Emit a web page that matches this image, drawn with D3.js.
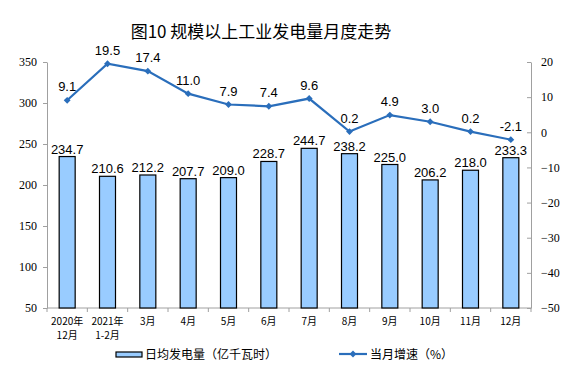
<!DOCTYPE html>
<html><head><meta charset="utf-8">
<script src="https://cdn.jsdelivr.net/npm/d3@7"></script>
<style>body{margin:0;background:#fff}</style>
</head><body><svg id="c" width="578" height="381"></svg>
<script>
const categories = ["2020年\n12月","2021年\n1-2月","3月","4月","5月","6月","7月","8月","9月","10月","11月","12月"];
const dailyOutput = [234.7,210.6,212.2,207.7,209.0,228.7,244.7,238.2,225.0,206.2,218.0,233.3];
const growth = [9.1,19.5,17.4,11.0,7.9,7.4,9.6,0.2,4.9,3.0,0.2,-2.1];
const leftTicks = [50,100,150,200,250,300,350];
const rightTicks = [-50,-40,-30,-20,-10,0,10,20];

const svg = d3.select("#c");
const L = 47, R = 531, T = 62, B = 308;
const cjk = "'Noto Sans CJK SC', sans-serif";
const serif = "'Liberation Serif', 'Times New Roman', serif";
const x = d3.scaleBand().domain(d3.range(categories.length)).range([L, R]);
const yL = d3.scaleLinear().domain([50,350]).range([B, T]);
const yR = d3.scaleLinear().domain([-50,20]).range([B, T]);

svg.append("text").attr("x",261).attr("y",38).attr("text-anchor","middle")
  .attr("font-family",cjk).attr("font-size",17).attr("font-weight",400).attr("fill","#000").text("图10 规模以上工业发电量月度走势");

// left axis
const gl = svg.append("g").attr("transform",`translate(${L},0)`).call(d3.axisLeft(yL).tickValues(leftTicks).tickSize(4).tickSizeOuter(0).tickPadding(6));
gl.selectAll("path,line").attr("stroke","#a0a0a0");
gl.selectAll("text").attr("font-family",serif).attr("font-size",12).attr("fill","#000");
// right axis
const gr = svg.append("g").attr("transform",`translate(${R},0)`).call(d3.axisRight(yR).tickValues(rightTicks).tickSize(-4).tickSizeOuter(0).tickPadding(10));
gr.selectAll("path,line").attr("stroke","#a0a0a0");
gr.selectAll("text").attr("font-family",serif).attr("font-size",12).attr("fill","#000");
// bottom axis
svg.append("line").attr("x1",L).attr("x2",R).attr("y1",B).attr("y2",B).attr("stroke","#a0a0a0");
svg.selectAll(".xt").data(d3.range(categories.length+1)).enter().append("line")
  .attr("x1",i=>L+i*x.step()).attr("x2",i=>L+i*x.step()).attr("y1",B).attr("y2",B+4).attr("stroke","#a0a0a0");

const bw = 16;
svg.selectAll(".bar").data(dailyOutput).enter().append("rect")
  .attr("x",(d,i)=>x(i)+x.bandwidth()/2-bw/2).attr("width",bw)
  .attr("y",d=>yL(d)).attr("height",d=>B-yL(d))
  .attr("fill","#99ccff").attr("stroke","#000").attr("stroke-width",1.2);
svg.selectAll(".bl").data(dailyOutput).enter().append("text")
  .attr("x",(d,i)=>x(i)+x.bandwidth()/2).attr("y",d=>yL(d)-3).attr("text-anchor","middle")
  .attr("font-family","'Liberation Sans', Arial, sans-serif").attr("font-size",13).attr("fill","#000").text(d=>d.toFixed(1));

const line = d3.line().x((d,i)=>x(i)+x.bandwidth()/2).y(d=>yR(d));
svg.append("path").datum(growth).attr("d",line).attr("fill","none").attr("stroke","#2a6ebb").attr("stroke-width",2.2);
svg.selectAll(".pt").data(growth).enter().append("path")
  .attr("transform",(d,i)=>`translate(${x(i)+x.bandwidth()/2},${yR(d)})`)
  .attr("d",d3.symbol(d3.symbolDiamond2,30)).attr("fill","#2a6ebb");
svg.selectAll(".pl").data(growth).enter().append("text")
  .attr("x",(d,i)=>x(i)+x.bandwidth()/2).attr("y",d=>yR(d)-9).attr("text-anchor","middle")
  .attr("font-family","'Liberation Sans', Arial, sans-serif").attr("font-size",13).attr("fill","#000").text(d=>d.toFixed(1));

// x labels
const xl = svg.selectAll(".xl").data(categories).enter().append("text")
  .attr("x",(d,i)=>x(i)+x.bandwidth()/2).attr("y",325).attr("text-anchor","middle")
  .attr("font-family",cjk).attr("font-size",10).attr("fill","#000");
xl.each(function(d){
  const parts = d.split("\n"); const t = d3.select(this);
  parts.forEach((p,k)=>t.append("tspan").attr("x",t.attr("x")).attr("dy",k?14:0).text(p));
});

// legend
svg.append("rect").attr("x",116).attr("y",352).attr("width",26).attr("height",5).attr("fill","#99ccff").attr("stroke","#000").attr("stroke-width",1.2);
svg.append("text").attr("x",145).attr("y",359).attr("font-family",cjk).attr("font-size",12).text("日均发电量（亿千瓦时）");
svg.append("line").attr("x1",339).attr("x2",367).attr("y1",354).attr("y2",354).attr("stroke","#2a6ebb").attr("stroke-width",2.2);
svg.append("path").attr("transform","translate(353,354)").attr("d",d3.symbol(d3.symbolDiamond2,30)).attr("fill","#2a6ebb");
svg.append("text").attr("x",370).attr("y",359).attr("font-family",cjk).attr("font-size",12).text("当月增速（%）");
</script></body></html>
